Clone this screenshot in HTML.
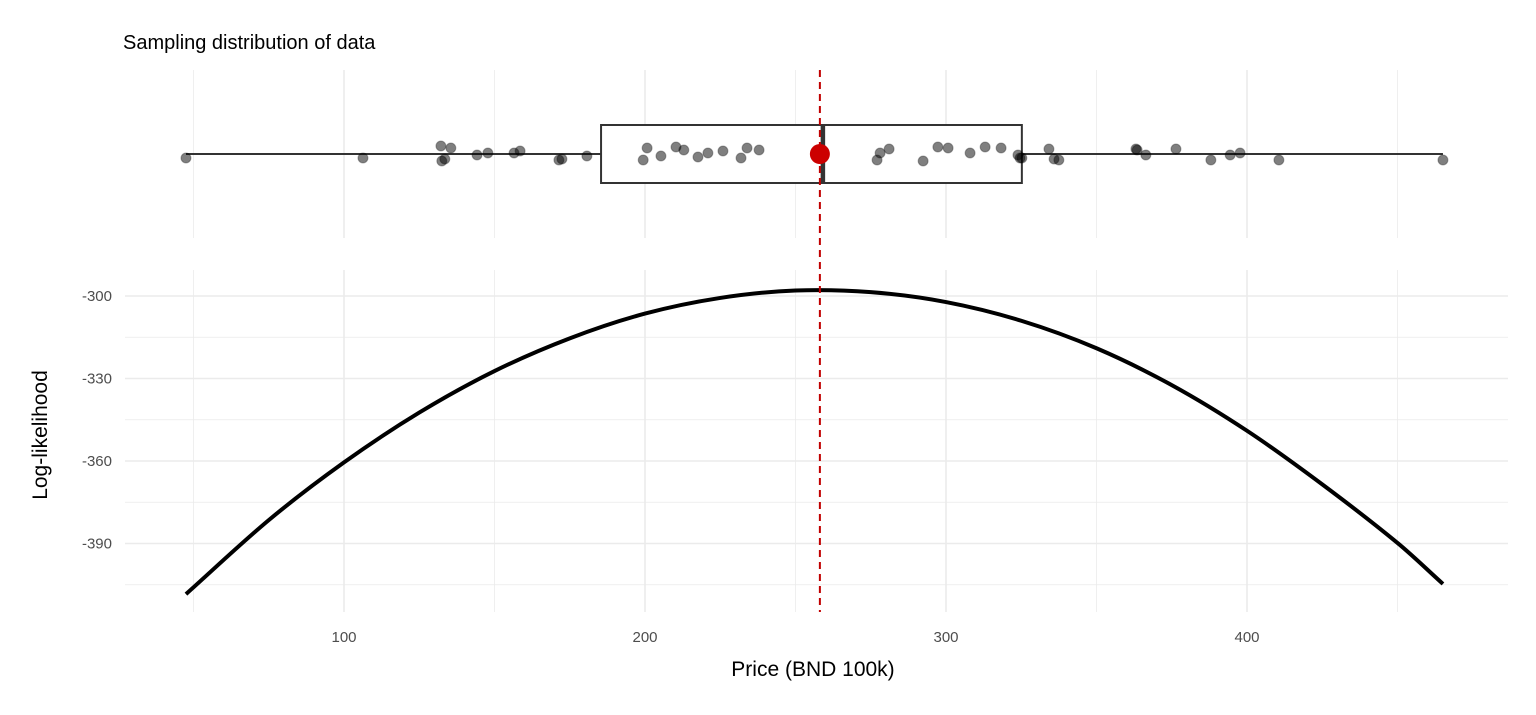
<!DOCTYPE html>
<html><head><meta charset="utf-8"><style>
body{margin:0;background:#fff;width:1536px;height:710px;overflow:hidden;font-family:"Liberation Sans",sans-serif}
</style></head><body>
<svg id="chart" width="1536" height="710" xmlns="http://www.w3.org/2000/svg" font-family="Liberation Sans, sans-serif">
<text x="123" y="49" font-size="20" fill="#000">Sampling distribution of data</text>
<g id="grid"></g>
<g id="marks"></g>
<text x="813" y="676" font-size="21" text-anchor="middle" fill="#000">Price (BND 100k)</text>
<text transform="translate(47,435) rotate(-90)" font-size="21" text-anchor="middle" fill="#000">Log-likelihood</text>
</svg>
<script>
const prices=[47.5,106.3,132.2,132.5,133.5,135.5,144.2,147.8,156.5,158.5,171.4,172.4,180.7,199.4,200.7,205.3,210.3,212.9,217.6,220.9,225.9,231.9,233.9,237.9,277.1,278.1,281.1,292.4,297.3,300.7,308.0,313.0,318.3,323.9,324.6,325.2,334.2,335.9,337.5,363.1,363.5,366.4,376.4,388.0,394.4,397.7,410.6,465.1];
const jitter=[4,4,-8,7,5,-6,1,-1,-1,-3,6,5,2,6,-6,2,-7,-4,3,-1,-3,4,-6,-4,6,-1,-5,7,-7,-6,-1,-7,-6,1,4,4,-5,5,6,-5,-4,1,-5,6,1,-1,6,6];
const gridX=[50,100,150,200,250,300,350,400,450];
const xTicks=[100,200,300,400];
const yTicks=[-300,-330,-360,-390];
const yMinor=[-315,-345,-375,-405];
const muGrid=[47.5,75,100,125,150,175,200,225,250,275,300,325,350,375,400,425,450,465.1];
const logLik=[-408.4,-381.5,-360.5,-342.4,-327.3,-315.4,-306.4,-300.7,-298.0,-298.6,-302.2,-309.0,-319.0,-332.4,-349.0,-368.5,-389.8,-404.7];
const boxStats={q1:185.4,median:259.1,q3:325.2,lo:47.5,hi:465.1};
const meanVal=258.1;

const X=v=>43+v*3.01;
const Y=v=>296+(-300-v)*2.75;
const NS="http://www.w3.org/2000/svg";
function mk(t,a,p){const e=document.createElementNS(NS,t);for(const k in a)e.setAttribute(k,a[k]);p.appendChild(e);return e;}
const grid=document.getElementById('grid'),marks=document.getElementById('marks');
gridX.forEach(v=>{const major=xTicks.includes(v);
 [[70,238],[270,612]].forEach(r=>{const l=mk('line',{x1:X(v),x2:X(v),y1:r[0],y2:r[1],stroke:'#ebebeb','stroke-width':major?1.6:0.8},grid);
 
 });});
yTicks.concat(yMinor).forEach(v=>{const l=mk('line',{x1:125,x2:1508,y1:Y(v),y2:Y(v),stroke:'#ebebeb','stroke-width':yTicks.includes(v)?1.6:0.8},grid);
 
 });
yTicks.forEach(v=>{const t=mk('text',{x:112,y:Y(v)+5,'font-size':15,fill:'#4d4d4d','text-anchor':'end'},grid);t.textContent=v;
 
 });
xTicks.forEach(v=>{const t=mk('text',{x:X(v),y:642,'font-size':15,fill:'#4d4d4d','text-anchor':'middle'},grid);t.textContent=v;
 
 });
const bc=154;
const w=mk('line',{x1:X(boxStats.lo),x2:X(boxStats.hi),y1:bc,y2:bc,stroke:'#333','stroke-width':2},marks);


const b=mk('rect',{x:X(boxStats.q1),y:125,width:X(boxStats.q3)-X(boxStats.q1),height:58,fill:'#fff',stroke:'#333','stroke-width':2},marks);


const md=mk('line',{x1:X(boxStats.median),x2:X(boxStats.median),y1:125,y2:183,stroke:'#333','stroke-width':4.5},marks);


prices.forEach((p,i)=>{const c=mk('circle',{cx:X(p),cy:bc+jitter[i],r:5,fill:'rgba(0,0,0,0.5)',stroke:'rgba(0,0,0,0.3)'},marks);
 
 });
const pts=muGrid.map((m,i)=>[X(m),Y(logLik[i])]);
let d='M'+pts[0].join(',');
for(let i=0;i<pts.length-1;i++){const p0=pts[Math.max(0,i-1)],p1=pts[i],p2=pts[i+1],p3=pts[Math.min(pts.length-1,i+2)];
 const s=(p2[0]-p1[0]);
 const t1=(p2[1]-p0[1])/(p2[0]-p0[0]||1), t2=(p3[1]-p1[1])/(p3[0]-p1[0]||1);
 d+=` C${p1[0]+s/3},${p1[1]+t1*s/3} ${p2[0]-s/3},${p2[1]-t2*s/3} ${p2[0]},${p2[1]}`;}
const cu=mk('path',{d:d,fill:'none',stroke:'#000','stroke-width':4},marks);


const ml=mk('line',{x1:X(meanVal),x2:X(meanVal),y1:70,y2:612,stroke:'#c00000','stroke-width':2,'stroke-dasharray':'7,5'},marks);


const mp=mk('circle',{cx:X(meanVal),cy:bc,r:10,fill:'#cc0000'},marks);


</script>
</body></html>
